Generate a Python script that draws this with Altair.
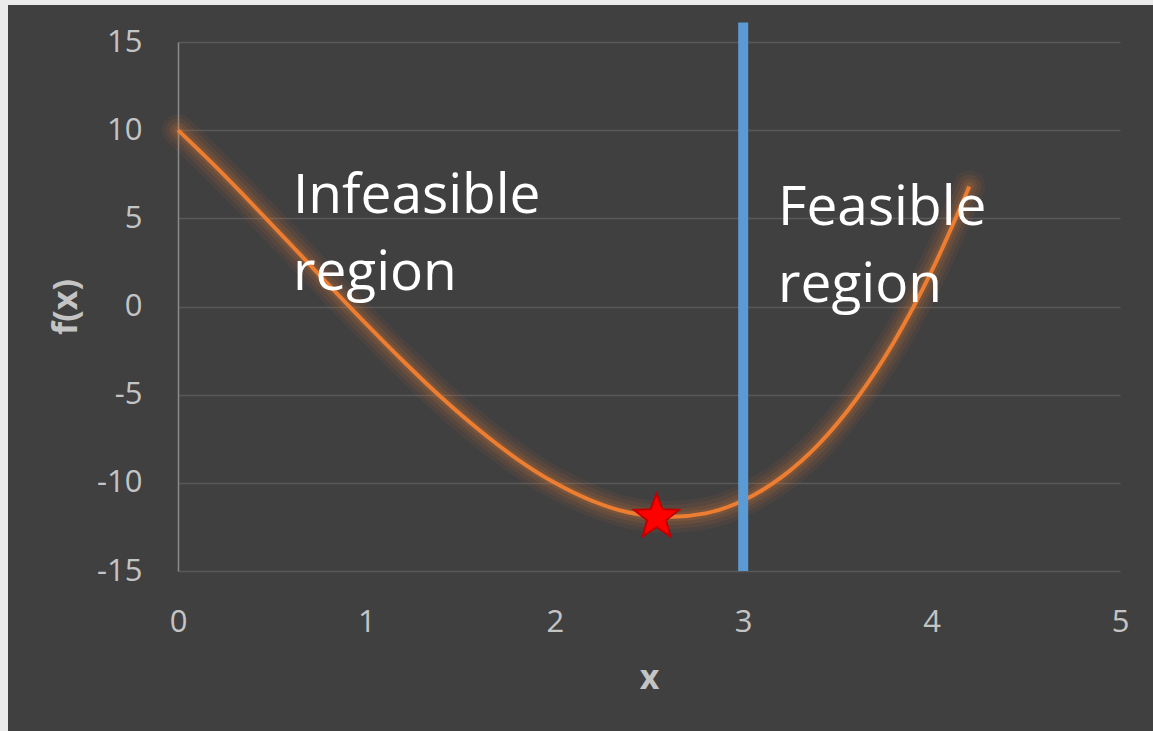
import altair as alt
import pandas as pd

# Objective curve f(x) sampled along x
x_vals = [0.0, 0.2, 0.4, 0.6, 0.8, 1.0, 1.2, 1.4, 1.6, 1.8, 2.0,
          2.2, 2.4, 2.6, 2.8, 3.0, 3.2, 3.4, 3.6, 3.8, 4.0, 4.2]
f_vals = [10.0, 7.93, 5.74, 3.50, 1.23, -1.0, -3.15, -5.18, -7.02, -8.65, -10.0,
          -11.03, -11.70, -11.94, -11.73, -11.0, -9.71, -7.82, -5.26, -2.01, 2.0, 6.81]

# Constraint boundary and the marked optimum
boundary_x = [3.0]
boundary_y = [-15.0]
boundary_y2 = [16.1]
star_x = [2.54]
star_y = [-11.95]

# Region annotations
label_text = ["Infeasible\nregion", "Feasible\nregion"]
label_x = [0.61, 3.185]
label_y = [5.30, 4.62]

y_ticks = [-15, -10, -5, 0, 5, 10, 15]
x_ticks = [0, 1, 2, 3, 4, 5]

BG = "#404040"
FRAME = "#EBEBEB"
ORANGE = "#ED7D31"
BLUE = "#5B9BD5"
FONT = "Open Sans"
LABEL = "#C4C4C4"

# five-pointed star in unit coordinates
STAR = ("M0,-1L0.247,-0.34L0.951,-0.309L0.399,0.13L0.588,0.809L0,0.42"
        "L-0.588,0.809L-0.399,0.13L-0.951,-0.309L-0.247,-0.34Z")

curve = pd.DataFrame({"x": x_vals, "f": f_vals})
bound = pd.DataFrame({"x": boundary_x, "y": boundary_y, "y2": boundary_y2})
star = pd.DataFrame({"x": star_x, "y": star_y})
labels = pd.DataFrame({"x": label_x, "y": label_y, "t": label_text})

xs = alt.Scale(domain=[0, 5], nice=False, zero=False)
ys = alt.Scale(domain=[-15, 15], nice=False, zero=False)

x_axis = alt.Axis(values=x_ticks, title="x", grid=False, domain=False, ticks=False,
                  labelExpr="'' + datum.value", labelFlush=False,
                  labelFont=FONT, labelFontSize=31, labelColor=LABEL, labelPadding=36,
                  titleFont=FONT, titleFontSize=34, titleFontWeight="bold",
                  titleColor=LABEL, titlePadding=24)
y_axis = alt.Axis(values=y_ticks, title="f(x)", grid=True, gridColor="#595959",
                  gridWidth=1.5, domain=True, domainColor="#8A8A8A", domainWidth=1.5,
                  ticks=False, labelExpr="'' + datum.value", labelFlush=False,
                  labelFont=FONT, labelFontSize=31, labelColor=LABEL,
                  labelPadding=36, titleFont=FONT, titleFontSize=34,
                  titleFontWeight="bold", titleColor=LABEL, titlePadding=13)

# thin light frame along the top and left edges
frame = pd.DataFrame({"x": [-178, -178], "x2": [975, -170],
                      "y": [-42, -42], "y2": [-37, 689]})
frame_mark = alt.Chart(frame).mark_rect(color=FRAME).encode(
    x=alt.X("x:Q", scale=None), x2="x2:Q",
    y=alt.Y("y:Q", scale=None), y2="y2:Q",
)

base = alt.Chart(curve).encode(
    x=alt.X("x:Q", scale=xs, axis=x_axis),
    y=alt.Y("f:Q", scale=ys, axis=y_axis),
)

# soft glow around the curve, built from wide translucent strokes
glow = [
    base.mark_line(color=ORANGE, strokeWidth=w, opacity=o, strokeCap="round",
                   interpolate="monotone", clip=False)
    for w, o in [(32, 0.06), (24, 0.08), (16, 0.11), (9, 0.14)]
]
line = base.mark_line(color=ORANGE, strokeWidth=4, strokeCap="butt",
                      interpolate="monotone", clip=False)

rule = alt.Chart(bound).mark_rule(color=BLUE, strokeWidth=10, clip=False).encode(
    x=alt.X("x:Q", scale=xs), y=alt.Y("y:Q", scale=ys), y2="y2:Q"
)

star_mark = alt.Chart(star).mark_point(
    shape=STAR, size=2250, filled=True, fill="#FF0000", stroke="#C00000",
    strokeWidth=2, opacity=1
).encode(x=alt.X("x:Q", scale=xs), y=alt.Y("y:Q", scale=ys))

text = alt.Chart(labels).mark_text(
    font=FONT, fontSize=55, color="white", align="left", baseline="alphabetic",
    lineBreak="\n", lineHeight=77
).encode(x=alt.X("x:Q", scale=xs), y=alt.Y("y:Q", scale=ys), text="t:N")

chart = alt.layer(*glow, line, rule, star_mark, text, frame_mark).properties(
    width=942, height=529,
    padding={"left": 178, "top": 42, "right": 33, "bottom": 160},
    autosize=alt.AutoSizeParams(type="none"),
    background=BG,
).configure_view(stroke=None)

chart.save("out.html", embed_options={"renderer": "svg", "actions": False})
